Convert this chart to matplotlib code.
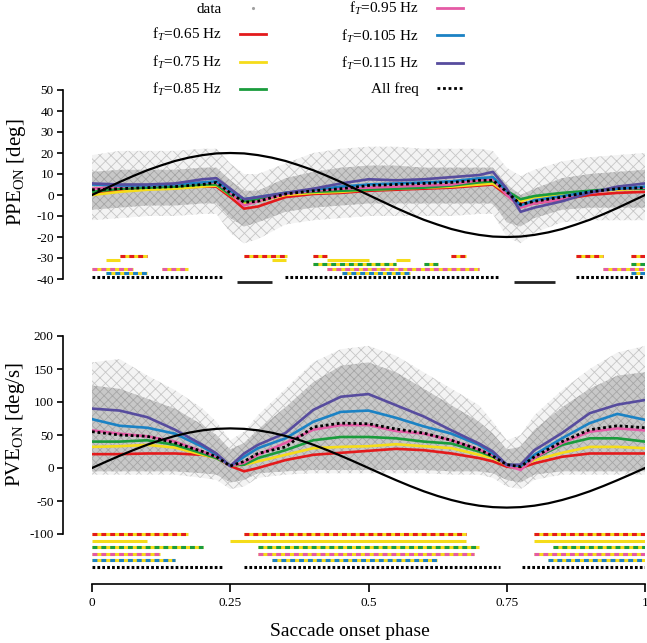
import numpy as np
import matplotlib
matplotlib.use("Agg")
import matplotlib.pyplot as plt
from matplotlib.lines import Line2D

plt.rcParams['font.family'] = ['Liberation Serif', 'DejaVu Serif']
plt.rcParams['mathtext.fontset'] = 'custom'
plt.rcParams['mathtext.rm'] = 'Liberation Serif'
plt.rcParams['mathtext.it'] = 'Liberation Serif:italic'
plt.rcParams['axes.unicode_minus'] = False
plt.rcParams['hatch.linewidth'] = 0.6

# phase grid of the binned means
phase = [0, .05, .1, .15, .2, .225, .25, .275, .3, .35, .4, .45, .5,
         .55, .6, .65, .7, .725, .75, .775, .8, .85, .9, .95, 1]

# position error at saccade onset (deg)
ppe_065 = [1, 2, 3, 3.5, 4, 4, -1, -6.5, -5.5, -1, .5, 1, 2, 2.5, 3, 3.5, 4.5, 5, 0, -4, -4, -2, 0, 1, 1.5]
ppe_075 = [0, 1.5, 2.5, 3, 4, 4.5, 0, -4, -3, 0, 1, 1.5, 2.5, 3, 3.5, 4, 5, 5.5, 1, -3, -1, 0, 1.5, 2.5, 3]
ppe_085 = [1.5, 3, 3.5, 4, 5, 5, 0, -3, -2, 1, 1.5, 2, 2.5, 3, 3.5, 4.5, 6, 6.5, 2, -2, -.5, 1, 2, 3, 3]
ppe_095 = [3, 4, 4.5, 5, 6, 6, 1, -5, -3, .5, 2, 3, 3.5, 4, 4.5, 5, 7, 7.5, 0, -6, -4, -2, 1, 3, 3.5]
ppe_105 = [5, 4.5, 4.5, 5, 6, 6.5, 2, -2, -1, 1, 2.5, 4, 5, 5.5, 6, 6.5, 8, 8.5, 2, -5, -2.5, -.5, 1.5, 3, 4]
ppe_115 = [5.5, 5, 5, 5.5, 7.5, 8, 3, -2, -1, 1, 3, 5.5, 7.5, 7, 7.5, 8.5, 9.5, 11, 3, -8, -6, -3, 1, 4, 5.5]
ppe_all = [2.5, 3, 3.5, 4, 5, 6, 1, -3.5, -3, .5, 2, 3, 4.5, 5, 5.5, 6, 7, 7, 1.5, -4.5, -3, -1, 1.5, 3, 3.5]
ppe_cloud_hi = [11, 12, 12, 12, 13, 13, 7, 2, 2, 8, 11, 13, 14, 14, 13, 13, 13, 13, 5, 0, 3, 8, 10, 11, 12]
ppe_cloud_lo = [-7, -6, -5, -5, -4, -4, -11, -15, -13, -8, -6, -5, -4, -4, -4, -4, -4, -4, -13, -15, -11, -7, -6, -6, -6]
ppe_outer_hi = [19, 21, 21, 21, 22, 22, 15, 10, 10, 15, 20, 22, 23, 23, 22, 22, 22, 21, 13, 9, 12, 16, 18, 19, 20]
ppe_outer_lo = [-12, -11, -10, -10, -9, -9, -18, -23, -21, -14, -12, -11, -10, -10, -10, -10, -9, -9, -20, -23, -18, -13, -12, -12, -12]

# velocity error at saccade onset (deg/s)
pve_065 = [21, 21, 22, 22, 20, 16, 3, -5, 0, 12, 20, 23, 26, 29, 27, 22, 15, 10, 2, 0, 7, 17, 22, 22, 22]
pve_075 = [32, 33, 35, 31, 20, 15, 4, 5, 10, 20, 30, 32, 33, 36, 33, 30, 20, 15, 5, 2, 12, 23, 32, 32, 30]
pve_085 = [40, 40, 42, 35, 22, 15, 4, 5, 15, 27, 42, 47, 47, 45, 40, 37, 25, 17, 5, 3, 15, 35, 45, 45, 40]
pve_095 = [57, 52, 48, 40, 25, 17, 3, 8, 20, 38, 58, 65, 65, 56, 52, 42, 28, 19, 4, -3, 15, 38, 55, 60, 57]
pve_105 = [74, 64, 61, 52, 32, 20, 3, 17, 30, 45, 70, 85, 87, 76, 63, 52, 35, 22, 5, 3, 20, 45, 68, 82, 73]
pve_115 = [90, 87, 77, 58, 35, 22, 3, 22, 35, 53, 88, 108, 112, 95, 78, 57, 37, 25, 5, 5, 27, 53, 83, 96, 103]
pve_all = [55, 50, 48, 38, 25, 17, 3, 10, 22, 32, 62, 68, 67, 59, 53, 42, 28, 18, 5, 2, 17, 40, 58, 64, 61]
pve_cloud_hi = [125, 120, 105, 90, 65, 50, 28, 38, 58, 92, 130, 155, 160, 145, 120, 95, 70, 52, 28, 32, 58, 92, 120, 140, 145]
pve_cloud_lo = [-5, -5, -5, -5, -8, -10, -22, -18, -8, -5, -3, -3, -3, -3, -3, -5, -5, -8, -18, -22, -10, -5, -5, -5, -5]
pve_outer_hi = [160, 165, 140, 118, 90, 70, 42, 55, 80, 120, 160, 180, 185, 170, 145, 120, 95, 70, 42, 50, 80, 118, 150, 175, 185]
pve_outer_lo = [-10, -10, -10, -10, -15, -18, -32, -28, -15, -10, -8, -8, -8, -8, -8, -10, -10, -15, -28, -32, -18, -10, -10, -10, -10]

# target trajectory (black curve)
target_phase = np.linspace(0, 1, 41)
target_ppe = [0, 3.1, 6.2, 9.1, 11.8, 14.1, 16.2, 17.8, 19.0, 19.8, 20, 19.8, 19.0, 17.8, 16.2, 14.1, 11.8, 9.1, 6.2, 3.1,
              0, -3.1, -6.2, -9.1, -11.8, -14.1, -16.2, -17.8, -19.0, -19.8, -20, -19.8, -19.0, -17.8, -16.2, -14.1,
              -11.8, -9.1, -6.2, -3.1, 0]
target_pve = [0, 9.4, 18.5, 27.2, 35.3, 42.4, 48.5, 53.5, 57.1, 59.3, 60, 59.3, 57.1, 53.5, 48.5, 42.4, 35.3, 27.2, 18.5, 9.4,
              0, -9.4, -18.5, -27.2, -35.3, -42.4, -48.5, -53.5, -57.1, -59.3, -60, -59.3, -57.1, -53.5, -48.5, -42.4,
              -35.3, -27.2, -18.5, -9.4, 0]

labels = ['f$_{T}$=0.65 Hz', 'f$_{T}$=0.75 Hz', 'f$_{T}$=0.85 Hz',
          'f$_{T}$=0.95 Hz', 'f$_{T}$=0.105 Hz', 'f$_{T}$=0.115 Hz']
colors = ['#e31a1c', '#f5dc1a', '#1a9c3c', '#e55aa5', '#1b82c4', '#574c9e']

# significance intervals (phase start, end) per row
ppe_sig = [
    [(.05, .10), (.275, .352), (.40, .425), (.65, .676), (.875, .924), (.975, 1)],
    [(.025, .05), (.326, .35), (.425, .50), (.55, .575)],
    [(.40, .55), (.60, .625), (.975, 1)],
    [(0, .075), (.126, .174), (.425, .70), (.924, 1)],
    [(.025, .10), (.452, .575), (.975, 1)],
]
ppe_sig_all = [(0, .237), (.349, .738), (.875, 1)]
ppe_sig_target = [(.262, .326), (.763, .837)]
ppe_rows = [-29, -31, -33, -35, -37]

pve_sig = [
    [(0, .174), (.275, .676), (.80, 1)],
    [(0, .10), (.25, .676), (.80, 1)],
    [(0, .20), (.30, .70), (.834, 1)],
    [(0, .123), (.30, .69), (.80, 1)],
    [(0, .15), (.326, .624), (.824, 1)],
]
pve_sig_all = [(0, .237), (.275, .738), (.777, 1)]
pve_rows = [-100, -110, -120, -130, -140]

W, H = 647, 643
fig = plt.figure(figsize=(W / 100, H / 100), dpi=100)
ax1 = fig.add_axes([92 / W, 1 - 285.3 / H, 553 / W, 197.4 / H])
ax2 = fig.add_axes([92 / W, 1 - 570.3 / H, 553 / W, 237.6 / H])


def draw_panel(ax, means, mean_all, target, hi, lo, ohi, olo):
    # scattered single trials, drawn as x-hatched bands
    ax.fill_between(phase, olo, ohi, facecolor='#f3f3f3', edgecolor='#c6c6c6',
                    hatch='xxx', linewidth=0, zorder=1)
    ax.fill_between(phase, lo, hi, facecolor='#c8c8c8', edgecolor='#a6a6a6',
                    hatch='xxxx', linewidth=0, zorder=1)
    for vals, c in zip(means, colors):
        ax.plot(phase, vals, color=c, lw=1.9, zorder=3)
    ax.plot(phase, mean_all, color='black', lw=2.0, ls=(0, (1, 1)), zorder=4)
    ax.plot(target_phase, target, color='black', lw=1.6, zorder=5)


def draw_sig(ax, sig, rows, sig_all, all_row):
    for k, (segs, y) in enumerate(zip(sig, rows)):
        for a, b in segs:
            ax.plot([a, b], [y, y], color=colors[1], lw=2.2, solid_capstyle='butt', zorder=3)
            if k != 1:
                ax.plot([a, b], [y, y], color=colors[k], lw=2.2,
                        dashes=(1.6, 1.3), dash_capstyle='butt', zorder=4)
    for a, b in sig_all:
        ax.plot([a, b], [all_row, all_row], color='black', lw=2.2,
                dashes=(0.9, 0.7), dash_capstyle='butt', zorder=4)


draw_panel(ax1, [ppe_065, ppe_075, ppe_085, ppe_095, ppe_105, ppe_115], ppe_all, target_ppe,
           ppe_cloud_hi, ppe_cloud_lo, ppe_outer_hi, ppe_outer_lo)
draw_sig(ax1, ppe_sig, ppe_rows, ppe_sig_all, -39)
for a, b in ppe_sig_target:
    ax1.plot([a, b], [-41.3, -41.3], color='#222222', lw=2.0, solid_capstyle='butt')

draw_panel(ax2, [pve_065, pve_075, pve_085, pve_095, pve_105, pve_115], pve_all, target_pve,
           pve_cloud_hi, pve_cloud_lo, pve_outer_hi, pve_outer_lo)
draw_sig(ax2, pve_sig, pve_rows, pve_sig_all, -150)

ax1.set_xlim(0, 1)
ax1.set_ylim(-43, 51)
ax2.set_xlim(0, 1)
ax2.set_ylim(-155, 205)

for ax in (ax1, ax2):
    for s in ('top', 'right'):
        ax.spines[s].set_visible(False)
    ax.spines['left'].set_position(('outward', 21))
    ax.spines['left'].set_linewidth(1.2)
    ax.tick_params(axis='y', direction='out', length=4.5, width=1.2, labelsize=9.5, pad=2)

ax1.spines['bottom'].set_visible(False)
ax1.set_xticks([])
ax1.set_yticks(np.arange(-40, 51, 10))
ax1.spines['left'].set_bounds(-40, 50)

ax2.set_yticks(np.arange(-100, 201, 50))
ax2.spines['left'].set_bounds(-100, 200)
ax2.spines['bottom'].set_position(('outward', 10))
ax2.spines['bottom'].set_bounds(0, 1)
ax2.spines['bottom'].set_linewidth(1.2)
ax2.set_xticks([0, .25, .5, .75, 1])
ax2.set_xticklabels(['0', '0.25', '0.5', '0.75', '1'])
ax2.tick_params(axis='x', direction='out', length=5.5, width=1.2, labelsize=9.5, pad=4)

fig.text(17 / W, 1 - 172 / H, r'PPE$_{\mathrm{ON}}$ [deg]', rotation=90,
         ha='center', va='center', fontsize=15)
fig.text(16 / W, 1 - 425 / H, r'PVE$_{\mathrm{ON}}$ [deg/s]', rotation=90,
         ha='center', va='center', fontsize=15)
fig.text(350 / W, 1 - 632 / H, 'Saccade onset phase', ha='center', va='center', fontsize=14)

handles = [Line2D([], [], color='#a0a0a0', marker='.', ms=2.5, ls='none')]
handles += [Line2D([], [], color=c, lw=2) for c in colors[:3]]
handles += [Line2D([], [], color=c, lw=2) for c in colors[3:]]
handles += [Line2D([], [], color='black', lw=2, ls=(0, (1, 1)))]
leg_labels = ['data'] + labels[:3] + labels[3:] + ['All freq']
fig.legend(handles, leg_labels, ncol=2, markerfirst=False, frameon=False,
           loc='upper right', bbox_to_anchor=(463 / W, 1.0), fontsize=11,
           handlelength=1.7, handletextpad=1.2, columnspacing=4.9,
           labelspacing=0.68, borderpad=0, borderaxespad=0)

fig.savefig('out.png', dpi=100)
